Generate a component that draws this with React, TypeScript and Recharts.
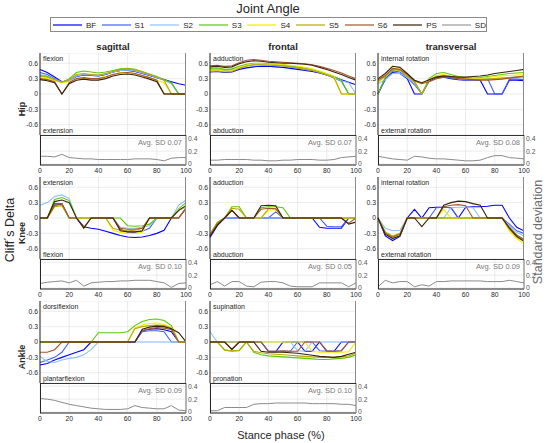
import { LineChart, Line, XAxis, YAxis, CartesianGrid } from "recharts";

// stance phase samples (%)
const PHASE = [0, 5, 10, 15, 20, 25, 30, 35, 40, 45, 50, 55, 60, 65, 70, 75, 80, 85, 90, 95, 100];
const X_TICKS = [0, 20, 40, 60, 80, 100];
const DELTA_TICKS = [-0.6, -0.3, 0, 0.3, 0.6];
const SD_TICKS = [0, 0.2, 0.4];

const SERIES = [
  { key: "BF", color: "#0000ff" },
  { key: "S1", color: "#4160ff" },
  { key: "S2", color: "#8cc2ff" },
  { key: "S3", color: "#5ec800" },
  { key: "S4", color: "#f0ec00" },
  { key: "S5", color: "#b9a800" },
  { key: "S6", color: "#a4552a" },
  { key: "PS", color: "#3a2208" },
];

const HIP_SAGITTAL = {
  BF: [0.48, 0.42, 0.33, 0.24, 0.26, 0.34, 0.37, 0.36, 0.35, 0.38, 0.43, 0.46, 0.46, 0.44, 0.4, 0.36, 0.32, 0.28, 0.24, 0.2, 0.17],
  S1: [0.42, 0.38, 0.3, 0.24, 0.27, 0.35, 0.38, 0.37, 0.36, 0.39, 0.43, 0.46, 0.47, 0.45, 0.41, 0.37, 0.33, 0.28, 0.22, 0, 0],
  S2: [0.38, 0.35, 0.29, 0.23, 0.26, 0.35, 0.38, 0.37, 0.36, 0.39, 0.43, 0.46, 0.47, 0.45, 0.41, 0.37, 0.32, 0.27, 0.2, 0, 0],
  S3: [0.36, 0.34, 0.28, 0.22, 0.3, 0.42, 0.45, 0.43, 0.41, 0.43, 0.46, 0.49, 0.5, 0.48, 0.44, 0.39, 0.34, 0.28, 0.22, 0, 0],
  S4: [0.32, 0.3, 0.26, 0.22, 0.24, 0.3, 0.31, 0.3, 0.31, 0.34, 0.39, 0.42, 0.42, 0.4, 0.36, 0.32, 0.27, 0.22, 0, 0, 0],
  S5: [0.35, 0.33, 0.28, 0.23, 0.28, 0.38, 0.4, 0.38, 0.37, 0.4, 0.44, 0.48, 0.49, 0.47, 0.43, 0.38, 0.33, 0.27, 0, 0, 0],
  S6: [0.3, 0.28, 0.24, 0, 0.22, 0.3, 0.32, 0.3, 0.3, 0.33, 0.38, 0.41, 0.42, 0.4, 0.36, 0.32, 0.27, 0, 0, 0, 0],
  PS: [0.28, 0.26, 0.22, 0, 0.2, 0.27, 0.29, 0.27, 0.27, 0.3, 0.35, 0.38, 0.39, 0.37, 0.33, 0.29, 0.24, 0, 0, 0, 0],
};
const HIP_SAGITTAL_SD = [0.12, 0.12, 0.11, 0.15, 0.1, 0.09, 0.08, 0.08, 0.07, 0.07, 0.07, 0.07, 0.07, 0.08, 0.08, 0.08, 0.07, 0.05, 0.09, 0.1, 0.1];

const HIP_FRONTAL = {
  BF: [0.43, 0.44, 0.42, 0.43, 0.48, 0.51, 0.53, 0.54, 0.54, 0.53, 0.52, 0.5, 0.48, 0.46, 0.44, 0.41, 0.37, 0.33, 0.28, 0.23, 0.18],
  S1: [0.47, 0.48, 0.46, 0.47, 0.52, 0.55, 0.57, 0.57, 0.57, 0.56, 0.55, 0.53, 0.51, 0.49, 0.46, 0.42, 0.37, 0.31, 0.25, 0, 0],
  S2: [0.48, 0.49, 0.47, 0.48, 0.53, 0.56, 0.58, 0.58, 0.57, 0.57, 0.56, 0.54, 0.52, 0.5, 0.47, 0.43, 0.38, 0.32, 0.26, 0.22, 0],
  S3: [0.5, 0.51, 0.48, 0.49, 0.54, 0.58, 0.6, 0.6, 0.59, 0.58, 0.57, 0.55, 0.53, 0.51, 0.48, 0.44, 0.39, 0.34, 0.27, 0, 0],
  S4: [0.46, 0.47, 0.45, 0.46, 0.52, 0.56, 0.59, 0.59, 0.58, 0.58, 0.57, 0.56, 0.54, 0.52, 0.49, 0.45, 0.4, 0.35, 0, 0, 0],
  S5: [0.44, 0.45, 0.43, 0.44, 0.5, 0.54, 0.57, 0.57, 0.56, 0.56, 0.55, 0.53, 0.51, 0.49, 0.46, 0.42, 0.37, 0.31, 0, 0, 0],
  S6: [0.55, 0.56, 0.54, 0.55, 0.61, 0.66, 0.67, 0.66, 0.64, 0.63, 0.62, 0.61, 0.6, 0.59, 0.57, 0.54, 0.5, 0.46, 0.41, 0.35, 0.3],
  PS: [0.53, 0.54, 0.52, 0.53, 0.59, 0.63, 0.65, 0.64, 0.62, 0.61, 0.6, 0.6, 0.59, 0.58, 0.56, 0.52, 0.48, 0.43, 0.38, 0.32, 0.27],
};
const HIP_FRONTAL_SD = [0.06, 0.06, 0.07, 0.07, 0.07, 0.07, 0.06, 0.06, 0.05, 0.05, 0.06, 0.06, 0.07, 0.07, 0.07, 0.06, 0.06, 0.07, 0.1, 0.11, 0.12];

const HIP_TRANSVERSAL = {
  BF: [0, 0.3, 0.42, 0.4, 0.3, 0, 0, 0.25, 0.32, 0.33, 0.3, 0.28, 0.27, 0.27, 0.27, 0, 0, 0, 0.27, 0.27, 0.26],
  S1: [0, 0.28, 0.45, 0.43, 0.32, 0.18, 0, 0.27, 0.33, 0.34, 0.31, 0.29, 0.28, 0.28, 0.29, 0.3, 0, 0, 0.29, 0.29, 0.28],
  S2: [0.2, 0.28, 0.4, 0.4, 0.32, 0.22, 0, 0.28, 0.35, 0.36, 0.33, 0.3, 0.28, 0.28, 0.29, 0.3, 0.3, 0.31, 0.32, 0.33, 0.33],
  S3: [0, 0.33, 0.48, 0.47, 0.35, 0.24, 0, 0.3, 0.4, 0.42, 0.38, 0.34, 0.32, 0.31, 0.32, 0.34, 0.36, 0.38, 0.4, 0.41, 0.42],
  S4: [0.22, 0.35, 0.5, 0.48, 0.36, 0.25, 0.2, 0.28, 0.36, 0.38, 0.35, 0.32, 0.3, 0.29, 0.3, 0.32, 0.34, 0.35, 0.36, 0.37, 0.38],
  S5: [0.25, 0.34, 0.48, 0.46, 0.35, 0.24, 0, 0.27, 0.34, 0.36, 0.34, 0.31, 0.29, 0.28, 0.28, 0.29, 0.3, 0.31, 0.32, 0.33, 0.34],
  S6: [0.28, 0.36, 0.5, 0.48, 0.38, 0.26, 0.2, 0.24, 0.3, 0.33, 0.32, 0.3, 0.29, 0.28, 0.27, 0.27, 0.28, 0.29, 0.31, 0.33, 0.35],
  PS: [0.3, 0.4, 0.54, 0.52, 0.4, 0.27, 0.22, 0.28, 0.33, 0.35, 0.34, 0.33, 0.33, 0.34, 0.35, 0.37, 0.4, 0.42, 0.44, 0.46, 0.48],
};
const HIP_TRANSVERSAL_SD = [0.12, 0.1, 0.08, 0.07, 0.06, 0.12, 0.11, 0.09, 0.08, 0.08, 0.07, 0.06, 0.05, 0.05, 0.06, 0.1, 0.13, 0.13, 0.1, 0.09, 0.08];

const KNEE_SAGITTAL = {
  BF: [0, 0, 0.25, 0.27, 0, 0, -0.17, -0.2, -0.22, -0.26, -0.3, -0.34, -0.37, -0.38, -0.37, -0.34, -0.3, -0.24, 0, 0, 0.2],
  S1: [0, 0, 0.28, 0.28, 0, 0, 0, 0, 0, 0, 0, -0.22, -0.27, -0.28, -0.26, -0.2, 0, 0, 0, 0.15, 0.22],
  S2: [0.25, 0.3, 0.42, 0.45, 0.38, 0, 0, 0, 0, 0, 0, -0.18, -0.2, -0.2, -0.18, -0.15, 0, 0, 0, 0.25, 0.35],
  S3: [0, 0, 0.36, 0.4, 0.34, 0, 0, 0, 0, 0, 0, 0, -0.15, -0.16, -0.15, -0.12, 0, 0, 0, 0.18, 0.3],
  S4: [0, 0, 0.22, 0.25, 0, 0, 0, 0, 0, 0, -0.24, -0.28, -0.3, -0.3, -0.28, 0, 0, 0, 0, 0.16, 0.22],
  S5: [0, 0, 0.22, 0.24, 0, 0, 0, 0, 0, 0, -0.2, -0.24, -0.25, -0.24, -0.2, 0, 0, 0, 0, 0, 0.2],
  S6: [0, 0, 0.25, 0.28, 0, 0, -0.18, 0, 0, 0, 0, -0.2, -0.22, -0.22, -0.2, 0, 0, 0, 0, 0, 0.18],
  PS: [0, 0, 0.32, 0.35, 0.3, 0, -0.2, 0, 0, 0, 0, -0.25, -0.27, -0.27, -0.25, 0, 0, 0, 0, 0.15, 0.24],
};
const KNEE_SAGITTAL_SD = [0.07, 0.09, 0.1, 0.11, 0.08, 0.12, 0.03, 0.08, 0.09, 0.1, 0.1, 0.11, 0.11, 0.12, 0.12, 0.12, 0.1, 0.08, 0.01, 0.07, 0.08];

const KNEE_FRONTAL = {
  BF: [-0.38, -0.15, 0, 0, 0, 0, 0, 0, 0, 0, 0, 0, 0, 0, 0, -0.18, -0.2, -0.2, -0.2, 0, 0],
  S1: [-0.35, -0.12, 0, 0, 0, 0, 0, 0, 0, 0.12, 0, 0, 0, 0, 0, 0, -0.16, -0.17, -0.17, 0, 0],
  S2: [-0.3, -0.1, 0, 0, 0, 0, 0, 0, 0, 0, 0, 0, 0, 0, 0, 0, 0, 0, 0, 0, 0],
  S3: [-0.33, -0.08, 0, 0.22, 0.22, 0, 0, 0.2, 0.22, 0.22, 0.2, 0, 0, 0, 0, 0, 0, 0, 0, 0, 0],
  S4: [-0.34, -0.12, 0, 0.16, 0, 0, 0, 0, 0.15, 0.16, 0, 0, 0, 0, 0, 0, 0, 0, 0, 0, 0],
  S5: [-0.32, -0.1, 0, 0.19, 0.17, 0, 0, 0, 0.18, 0.18, 0, 0, 0, 0, 0, 0, 0, 0, 0, 0, 0],
  S6: [-0.34, -0.12, 0, 0.15, 0, 0, 0, 0.17, 0.19, 0.18, 0, 0, 0, 0, 0, 0, 0, 0, 0, -0.1, 0],
  PS: [-0.36, -0.14, 0, 0.15, 0, 0, 0, 0.24, 0.25, 0.24, 0, 0, 0, 0, 0, 0, 0, 0, 0, -0.12, -0.08],
};
const KNEE_FRONTAL_SD = [0.05, 0.1, 0.03, 0.1, 0.1, 0.03, 0.02, 0.09, 0.1, 0.1, 0.08, 0.03, 0.02, 0.02, 0.02, 0.08, 0.08, 0.08, 0.08, 0.02, 0.08];

const KNEE_TRANSVERSAL = {
  BF: [0, -0.35, -0.44, -0.36, 0, 0.17, 0, 0.2, 0.21, 0.21, 0.2, 0, 0.21, 0.22, 0.22, 0.23, 0.25, 0.25, 0, -0.18, -0.25],
  S1: [0, -0.3, -0.4, -0.34, 0, 0, 0, 0, 0.2, 0.21, 0.2, 0, 0, 0, 0, 0, 0, 0, -0.12, -0.25, -0.3],
  S2: [0, -0.2, -0.25, -0.24, 0, 0, 0, 0, 0, 0, 0.2, 0.21, 0.21, 0.2, 0, 0, 0, 0, -0.15, -0.28, -0.35],
  S3: [0, -0.28, -0.36, -0.32, 0, 0, 0, 0, 0, 0, 0, 0, 0, 0, 0, 0, 0, 0, -0.2, -0.35, -0.45],
  S4: [0, -0.3, -0.38, -0.33, 0, 0, 0, 0, 0, 0.17, 0, 0, 0, 0, 0, 0, 0, 0, -0.25, -0.4, -0.5],
  S5: [0, -0.28, -0.35, -0.3, 0, 0, 0, 0, 0, 0, 0, 0, 0, 0, 0, 0, 0, 0, -0.22, -0.37, -0.46],
  S6: [0, -0.3, -0.37, -0.32, 0, 0, 0, 0, 0, 0.22, 0.25, 0.26, 0.24, 0, 0, 0, 0, 0, -0.18, -0.33, -0.42],
  PS: [0, -0.32, -0.4, -0.35, 0, 0, -0.17, 0, 0, 0.25, 0.3, 0.33, 0.32, 0.28, 0.25, 0, 0, 0, -0.2, -0.36, -0.45],
};
const KNEE_TRANSVERSAL_SD = [0.02, 0.12, 0.08, 0.1, 0.1, 0.02, 0.05, 0.03, 0.1, 0.1, 0.11, 0.11, 0.11, 0.11, 0.11, 0.1, 0.1, 0.1, 0.12, 0.1, 0.08];

const ANKLE_SAGITTAL = {
  BF: [-0.45, -0.42, -0.35, -0.3, -0.25, -0.2, -0.15, 0, 0, 0, 0, 0, 0, 0, 0.22, 0.25, 0.26, 0.24, 0.2, 0, 0],
  S1: [-0.4, -0.35, -0.3, -0.2, 0, 0, 0, 0, 0, 0, 0, 0, 0, 0, 0.2, 0.22, 0.22, 0.2, 0, 0, 0],
  S2: [-0.28, -0.38, -0.4, -0.35, -0.32, -0.3, -0.25, -0.15, 0, 0, 0, 0, 0, 0, 0, 0, 0, 0, 0, 0, 0],
  S3: [0, 0, 0, 0, 0, 0, 0, 0, 0.18, 0.18, 0.18, 0.18, 0.2, 0.32, 0.4, 0.44, 0.45, 0.42, 0.32, 0, 0],
  S4: [0, 0, 0, 0, 0, 0, 0, 0, 0, 0, 0, 0, 0, 0.28, 0.33, 0.36, 0.37, 0.34, 0.28, 0, 0],
  S5: [0, 0, 0, 0, 0, 0, 0, 0, 0, 0, 0, 0, 0, 0.26, 0.3, 0.32, 0.33, 0.32, 0.27, 0, 0],
  S6: [-0.2, -0.2, -0.15, 0, 0, 0, 0, 0, 0, 0, 0, 0, 0, 0, 0.22, 0.26, 0.28, 0.27, 0.24, 0, 0],
  PS: [0, 0, 0, 0, 0, 0, 0, 0, 0, 0, 0, 0, 0, 0, 0.25, 0.29, 0.31, 0.3, 0.26, 0.18, 0],
};
const ANKLE_SAGITTAL_SD = [0.21, 0.2, 0.18, 0.15, 0.12, 0.1, 0.08, 0.06, 0.05, 0.04, 0.04, 0.04, 0.05, 0.1, 0.07, 0.06, 0.05, 0.05, 0.1, 0.03, 0.02];

const ANKLE_FRONTAL = {
  BF: [0, 0, 0, 0, 0, 0, 0, 0, -0.18, -0.19, 0, 0, 0, -0.18, -0.18, 0, -0.18, -0.18, 0, 0, 0],
  S1: [0, 0, 0, 0, 0, 0, 0, 0, -0.18, -0.18, -0.18, -0.18, 0, 0, 0, -0.17, -0.18, -0.18, -0.17, 0, 0],
  S2: [0.2, 0, 0, 0, 0, 0, 0, 0, 0, 0, 0, 0, -0.17, -0.18, 0, 0, 0, 0, 0, 0, 0],
  S3: [0, 0, -0.16, -0.18, -0.17, 0, -0.2, -0.25, -0.27, -0.28, -0.29, -0.3, -0.31, -0.32, -0.33, -0.34, -0.34, -0.33, -0.32, -0.3, -0.25],
  S4: [0, 0, 0, 0, 0, 0, 0, 0, 0, 0, 0, 0, 0, 0, -0.18, -0.2, -0.2, -0.2, -0.2, -0.19, 0],
  S5: [0, 0, -0.15, -0.17, -0.16, 0, -0.18, -0.21, -0.23, -0.24, -0.25, -0.26, -0.27, -0.28, -0.29, -0.3, -0.3, -0.3, -0.29, -0.27, -0.22],
  S6: [0, 0, 0, -0.15, 0, 0, 0, 0, -0.18, -0.18, -0.17, -0.18, -0.18, 0, 0, 0, -0.17, -0.18, -0.17, 0, 0],
  PS: [0, 0, 0, -0.14, 0, 0, 0, -0.18, -0.2, -0.2, -0.2, -0.21, -0.22, -0.24, -0.26, -0.28, -0.29, -0.3, -0.28, -0.24, -0.2],
};
const ANKLE_FRONTAL_SD = [0.02, 0.02, 0.07, 0.07, 0.07, 0.07, 0.12, 0.13, 0.13, 0.14, 0.14, 0.14, 0.14, 0.14, 0.13, 0.13, 0.13, 0.13, 0.12, 0.12, 0.1];

const COLUMNS = ["sagittal", "frontal", "transversal"];
const JOINTS = ["Hip", "Knee", "Ankle"];

const PANELS = [
  { row: 0, col: 0, lines: HIP_SAGITTAL, sd: HIP_SAGITTAL_SD, top: "flexion", bottom: "extension", avg: "0.07" },
  { row: 0, col: 1, lines: HIP_FRONTAL, sd: HIP_FRONTAL_SD, top: "adduction", bottom: "abduction", avg: "0.07" },
  { row: 0, col: 2, lines: HIP_TRANSVERSAL, sd: HIP_TRANSVERSAL_SD, top: "internal rotation", bottom: "external rotation", avg: "0.08" },
  { row: 1, col: 0, lines: KNEE_SAGITTAL, sd: KNEE_SAGITTAL_SD, top: "extension", bottom: "flexion", avg: "0.10" },
  { row: 1, col: 1, lines: KNEE_FRONTAL, sd: KNEE_FRONTAL_SD, top: "adduction", bottom: "abduction", avg: "0.05" },
  { row: 1, col: 2, lines: KNEE_TRANSVERSAL, sd: KNEE_TRANSVERSAL_SD, top: "internal rotation", bottom: "external rotation", avg: "0.09" },
  { row: 2, col: 0, lines: ANKLE_SAGITTAL, sd: ANKLE_SAGITTAL_SD, top: "dorsiflexion", bottom: "plantarflexion", avg: "0.09" },
  { row: 2, col: 1, lines: ANKLE_FRONTAL, sd: ANKLE_FRONTAL_SD, top: "supination", bottom: "pronation", avg: "0.10" },
];

// layout (px)
const COL_X = [40, 210, 378];
const ROW_Y = [53, 177, 301];
const PLOT_W = 146;
const MAIN_H = 82;
const SD_H = 30;
const AXIS_W = 24;
const SD_PAD = 8;
const SD_AXIS_W = 20;
const X_AXIS_H = 13;
const FONT = "'Liberation Sans', Arial, Helvetica, sans-serif";
const INK = "#262626";
const GRID = "#e2e2e2";

const tickStyle = { fontSize: 6.8, fill: INK, fontFamily: FONT };

const DeltaPanel = ({ left, top, lines }) => {
  const data = PHASE.map((p, i) => {
    const row = { phase: p };
    SERIES.forEach((s) => (row[s.key] = lines[s.key][i]));
    return row;
  });
  return (
    <div style={{ position: "absolute", left: left - AXIS_W, top }}>
      <LineChart width={AXIS_W + PLOT_W} height={MAIN_H} data={data} margin={{ top: 0, right: 0, bottom: 0, left: 0 }}>
        <CartesianGrid stroke={GRID} strokeWidth={0.7} />
        <XAxis dataKey="phase" type="number" domain={[0, 100]} ticks={X_TICKS} hide />
        <YAxis
          type="number"
          domain={[-0.8, 0.8]}
          ticks={DELTA_TICKS}
          interval={0}
          width={AXIS_W}
          tickSize={1}
          tickMargin={1}
          tick={tickStyle}
          axisLine={{ stroke: INK }}
          tickLine={false}
        />
        {SERIES.map((s) => (
          <Line key={s.key} dataKey={s.key} stroke={s.color} strokeWidth={1.1} dot={false} isAnimationActive={false} />
        ))}
      </LineChart>
    </div>
  );
};

const SdPanel = ({ left, top, sd }) => {
  const data = PHASE.map((p, i) => ({ phase: p, sd: sd[i] }));
  return (
    <div style={{ position: "absolute", left: left - SD_PAD, top }}>
      <LineChart width={SD_PAD + PLOT_W + SD_AXIS_W} height={SD_H + X_AXIS_H} data={data} margin={{ top: 0, right: 0, bottom: 0, left: SD_PAD }}>
        <CartesianGrid stroke={GRID} strokeWidth={0.7} />
        <XAxis
          dataKey="phase"
          type="number"
          domain={[0, 100]}
          ticks={X_TICKS}
          interval={0}
          height={X_AXIS_H}
          tickSize={1}
          tickMargin={2}
          tick={tickStyle}
          axisLine={{ stroke: INK }}
          tickLine={false}
        />
        <YAxis
          orientation="right"
          type="number"
          domain={[-0.015, 0.45]}
          ticks={SD_TICKS}
          interval={0}
          width={SD_AXIS_W}
          tickSize={1}
          tickMargin={1}
          tick={{ ...tickStyle, fill: "#555" }}
          axisLine={{ stroke: "#777" }}
          tickLine={false}
        />
        <Line dataKey="sd" stroke="#8a8a8a" strokeWidth={1} dot={false} isAnimationActive={false} />
      </LineChart>
    </div>
  );
};

const text = (style, content, key?) => (
  <div key={key} style={{ position: "absolute", whiteSpace: "nowrap", fontFamily: FONT, lineHeight: 1, ...style }}>
    {content}
  </div>
);

const Legend = () => (
  <div
    style={{
      position: "absolute",
      left: 50,
      top: 17,
      width: 437,
      height: 15,
      border: "1px solid #8a8a8a",
      boxSizing: "border-box",
      background: "#fff",
    }}
  >
    {[...SERIES, { key: "SD", color: "#9a9a9a" }].map((s, i) => (
      <div key={s.key} style={{ position: "absolute", left: 2 + i * 48.6, top: 2, display: "flex", alignItems: "center", height: 10 }}>
        <svg width={30} height={10}>
          <line x1={0} y1={5} x2={29} y2={5} stroke={s.color} strokeWidth={1.2} />
        </svg>
        <span style={{ fontFamily: FONT, fontSize: 8, color: INK, marginLeft: 3 }}>{s.key}</span>
      </div>
    ))}
  </div>
);

export default function App() {
  return (
    <div style={{ position: "absolute", left: 0, top: 0, width: 550, height: 443, background: "#fff", overflow: "hidden" }}>
      {text({ left: 0, width: 536, top: 2, textAlign: "center", fontSize: 13, color: INK }, "Joint Angle")}
      <Legend />
      {COLUMNS.map((c, i) =>
        text({ left: COL_X[i], width: PLOT_W, top: 42, textAlign: "center", fontSize: 9.5, fontWeight: 600, color: INK }, c, c)
      )}
      {JOINTS.map((j, i) =>
        text(
          { left: 22, top: ROW_Y[i] + (MAIN_H + SD_H) / 2, transform: "translate(-50%, -50%) rotate(-90deg)", fontSize: 9, fontWeight: 600, color: INK },
          j,
          j
        )
      )}
      {text({ left: 10, top: 230, transform: "translate(-50%, -50%) rotate(-90deg)", fontSize: 12.5, color: INK }, "Cliff´s Delta")}
      {text({ left: 538, top: 232, transform: "translate(-50%, -50%) rotate(-90deg)", fontSize: 12.5, color: "#6e6e6e" }, "Standard deviation")}
      {text({ left: 281, top: 435, transform: "translate(-50%, -50%)", fontSize: 11, color: INK }, "Stance phase (%)")}

      {PANELS.map((p) => {
        const x = COL_X[p.col];
        const y = ROW_Y[p.row];
        return (
          <div key={`${p.row}-${p.col}`}>
            <DeltaPanel left={x} top={y} lines={p.lines} />
            <SdPanel left={x} top={y + MAIN_H} sd={p.sd} />
            <div
              style={{
                position: "absolute",
                left: x,
                top: y,
                width: PLOT_W,
                height: MAIN_H,
                borderRight: "1px solid #8a8a8a",
                boxSizing: "border-box",
                pointerEvents: "none",
              }}
            />
            <div style={{ position: "absolute", left: x, top: y + MAIN_H - 0.5, width: PLOT_W, height: 1.2, background: "#333" }} />
            <div style={{ position: "absolute", left: x, top: y + MAIN_H, width: 1, height: SD_H, background: INK }} />
            {text({ left: x + 3, top: y + 1.5, fontSize: 7, color: INK }, p.top)}
            {text({ left: x + 3, top: y + MAIN_H - 8.5, fontSize: 7, color: INK }, p.bottom)}
            {text({ left: x, width: PLOT_W - 4, top: y + MAIN_H + 4, textAlign: "right", fontSize: 7.5, color: "#7a7a7a" }, `Avg. SD ${p.avg}`)}
          </div>
        );
      })}
    </div>
  );
}
